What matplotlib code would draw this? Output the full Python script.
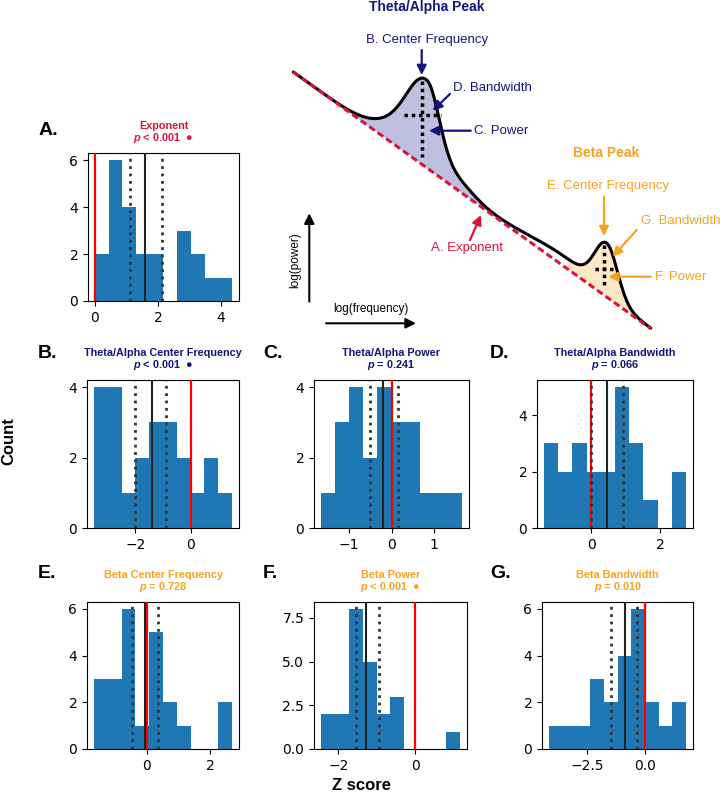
import numpy as np
import matplotlib
matplotlib.use("Agg")
import matplotlib.pyplot as plt

plt.rcParams['font.family'] = ['DejaVu Sans']
plt.rcParams['mathtext.fontset'] = 'custom'
plt.rcParams['mathtext.it'] = 'Liberation Sans:italic:bold'
plt.rcParams['mathtext.rm'] = 'Liberation Sans:bold'
plt.rcParams['mathtext.bf'] = 'Liberation Sans:bold'

LAB = ['Liberation Sans', 'DejaVu Sans']
NAVY = '#14147d'
ORANGE = '#f5a31f'
CRIMSON = '#dc143c'
BAR = '#1f77b4'

# ---------------- histogram data ----------------
panel_letters = ['A.', 'B.', 'C.', 'D.', 'E.', 'F.', 'G.']
panel_names = ['Exponent', 'Theta/Alpha Center Frequency', 'Theta/Alpha Power',
               'Theta/Alpha Bandwidth', 'Beta Center Frequency', 'Beta Power',
               'Beta Bandwidth']
panel_pvals = ['< 0.001', '< 0.001', '= 0.241', '= 0.066', '= 0.728', '< 0.001', '= 0.010']
panel_sig = [True, True, False, False, False, True, False]

bin_ranges = [(0.0, 4.35), (-3.49, 1.49), (-1.66, 1.66), (-1.36, 2.75),
              (-1.66, 2.69), (-2.456, 1.167), (-4.17, 1.77)]
exp_counts = [2, 6, 4, 2, 2, 0, 3, 2, 1, 1]
ta_cf_counts = [4, 4, 1, 2, 3, 3, 2, 1, 2, 1]
ta_pw_counts = [1, 3, 4, 2, 4, 3, 3, 1, 1, 1]
ta_bw_counts = [3, 2, 3, 2, 2, 5, 3, 1, 0, 2]
b_cf_counts = [3, 3, 6, 1, 5, 2, 1, 0, 0, 2]
b_pw_counts = [2, 2, 8, 5, 2, 3, 0, 0, 0, 1]
b_bw_counts = [1, 1, 1, 3, 2, 4, 6, 2, 1, 2]
all_counts = [exp_counts, ta_cf_counts, ta_pw_counts, ta_bw_counts,
              b_cf_counts, b_pw_counts, b_bw_counts]

means = [1.59, -1.40, -0.19, 0.46, -0.04, -1.27, -0.88]
ci_low = [1.11, -2.00, -0.51, -0.005, -0.47, -1.54, -1.48]
ci_high = [2.12, -0.89, 0.145, 0.92, 0.37, -0.94, -0.36]
null_value = 0.0

xticks = [[0, 2, 4], [-2, 0], [-1, 0, 1], [0, 2], [0, 2], [-2, 0], [-2.5, 0.0]]
yticks = [[0, 2, 4, 6], [0, 2, 4], [0, 2, 4], [0, 2, 4], [0, 2, 4, 6],
          [0, 2.5, 5.0, 7.5], [0, 2, 4, 6]]

W, H = 721, 802
# axes boxes in pixels: left, top, right, bottom
boxes = [(88, 153, 239, 301), (87, 380, 239, 528), (314, 380, 469, 528),
         (537, 380, 693, 528), (87, 602, 239, 749), (314, 602, 467, 749),
         (542, 602, 693, 749)]
label_pos = [(39, 135), (38, 358), (263, 358), (490, 358), (38, 578), (263, 578), (490, 578)]
panel_colors = [CRIMSON, NAVY, NAVY, NAVY, ORANGE, ORANGE, ORANGE]

fig = plt.figure(figsize=(W / 100, H / 100), dpi=100)

for i in range(7):
    l, t, r, b = boxes[i]
    ax = fig.add_axes([l / W, 1 - b / H, (r - l) / W, (b - t) / H])
    lo, hi = bin_ranges[i]
    cnt = np.array(all_counts[i], dtype=float)
    edges = np.linspace(lo, hi, len(cnt) + 1)
    ax.hist(edges[:-1], bins=edges, weights=cnt, color=BAR)
    ax.axvline(null_value, color='red', lw=1.6, zorder=3)
    ax.axvline(ci_low[i], color='#333333', lw=2.0, ls=':', zorder=4)
    ax.axvline(ci_high[i], color='#333333', lw=2.0, ls=':', zorder=4)
    ax.axvline(means[i], color='#222222', lw=1.5, zorder=4)
    ax.set_xticks(xticks[i])
    ax.set_yticks(yticks[i])
    ax.tick_params(labelsize=10)
    title = f"{panel_names[i]}\n$p$ {panel_pvals[i]}" + ("  ●" if panel_sig[i] else "")
    ax.set_title(title, color=panel_colors[i], fontsize=7.8, fontweight='bold',
                 family=LAB, linespacing=0.97, pad=8.5)
    lx, ly = label_pos[i]
    fig.text(lx / W, 1 - ly / H, panel_letters[i], fontsize=14, fontweight='bold',
             family=LAB, ha='left', va='baseline')

fig.text(9 / W, 1 - 441 / H, 'Count', rotation=90, fontsize=12, fontweight='bold',
         family=LAB, ha='center', va='center')
fig.text(362 / W, 1 - 785 / H, 'Z score', fontsize=12, fontweight='bold',
         family=LAB, ha='center', va='center')

# ---------------- schematic spectrum ----------------
ap_offset = 0.0
ap_exponent = 1.0
# (center, height, sigma_left, sigma_right) in log-frequency / log-power units
theta_components = [(0.375, 0.272, 0.052, 0.033),
                    (0.3125, 0.0857, 0.070, 0.070),
                    (0.4524, 0.039, 0.0504, 0.0504)]
beta_components = [(0.760, 0.039, 0.098, 0.098),
                   (0.8777, 0.191, 0.0336, 0.0294)]
theta_range = (0.2, 0.6)
beta_range = (0.7, 1.0)
theta_bw = (0.31, 0.413)
theta_bw_level = 0.573
beta_bw = (0.844, 0.897)
beta_bw_level = 0.50


def agauss(f, c, h, sl, sr):
    s = np.where(f < c, sl, sr)
    return h * np.exp(-(f - c) ** 2 / (2 * s ** 2))


sf = np.linspace(0, 1, 1000)
ap = ap_offset - ap_exponent * sf
spec = ap.copy()
for comp in theta_components + beta_components:
    spec = spec + agauss(sf, *comp)

sax = fig.add_axes([280 / W, 1 - 340 / H, 441 / W, 340 / H])
sax.set_xlim(-0.0372, 1.1967)
sax.set_ylim(-1.0444, 0.2806)
sax.axis('off')

th = sf < 0.56
be = sf > 0.765
sax.fill_between(sf, ap, spec, where=th, color='navy', alpha=0.25, lw=0)
sax.fill_between(sf, ap, spec, where=be, color=ORANGE, alpha=0.25, lw=0)
sax.plot(sf, spec, color='black', lw=2.2, zorder=3, solid_capstyle='round')
sax.plot(sf, ap, color=CRIMSON, lw=2.2, ls=(0, (2.2, 1.2)), zorder=4)

# peak markers
for rng, bw, lvl in [(theta_range, theta_bw, theta_bw_level),
                     (beta_range, beta_bw, beta_bw_level)]:
    mask = (sf > rng[0]) & (sf < rng[1])
    idx = np.where(mask)[0][np.argmax(spec[mask])]
    fx, fy = sf[idx], spec[idx]
    base = ap_offset - ap_exponent * fx
    sax.plot([fx, fx], [fy - 0.01, base + 0.03], color='black', lw=2.5,
             ls=(0, (1, 1.1)), zorder=5)
    yl = base + lvl * (fy - base)
    sax.plot(list(bw), [yl, yl], color='black', lw=2.5, ls=(0, (1, 1.1)), zorder=5)


def arrow(start, tip, color, lw=1.6, ms=14):
    sax.annotate('', xy=tip, xytext=start,
                 arrowprops=dict(arrowstyle='-|>', color=color, lw=lw,
                                 mutation_scale=ms, shrinkA=0, shrinkB=0))


tfs = 9.5
sax.text(0.3733, 0.255, 'Theta/Alpha Peak', color=NAVY, fontsize=10, fontweight='bold',
         family=LAB, ha='center', va='center')
sax.text(0.3741, 0.1247, 'B. Center Frequency', color=NAVY, fontsize=tfs, family=LAB,
         ha='center', va='center')
arrow((0.3593, 0.0857), (0.3593, -0.0117), NAVY)
sax.text(0.4477, -0.0635, 'D. Bandwidth', color=NAVY, fontsize=tfs, family=LAB,
         ha='left', va='center')
arrow((0.4384, -0.0857), (0.390, -0.1508), NAVY)
sax.text(0.5056, -0.2288, 'C. Power', color=NAVY, fontsize=tfs, family=LAB,
         ha='left', va='center')
arrow((0.4964, -0.2288), (0.3797, -0.2288), NAVY)

sax.text(0.8758, -0.3145, 'Beta Peak', color=ORANGE, fontsize=10, fontweight='bold',
         family=LAB, ha='center', va='center')
sax.text(0.880, -0.4443, 'E. Center Frequency', color=ORANGE, fontsize=tfs, family=LAB,
         ha='center', va='center')
arrow((0.8693, -0.486), (0.8693, -0.6391), ORANGE)
sax.text(0.972, -0.5807, 'G. Bandwidth', color=ORANGE, fontsize=tfs, family=LAB,
         ha='left', va='center', clip_on=False)
arrow((0.9608, -0.6157), (0.8937, -0.7198), ORANGE)
sax.text(1.012, -0.800, 'F. Power', color=ORANGE, fontsize=tfs, family=LAB,
         ha='left', va='center')
arrow((1.0, -0.7977), (0.8814, -0.7977), ORANGE)

sax.text(0.4852, -0.687, 'A. Exponent', color=CRIMSON, fontsize=tfs, family=LAB,
         ha='center', va='center')
arrow((0.4944, -0.6547), (0.5252, -0.5573), CRIMSON)

sax.text(0.0048, -0.7346, 'log(power)', rotation=90, color='black', fontsize=8.5,
         family=LAB, ha='center', va='center')
arrow((0.0448, -0.895), (0.0448, -0.5507), 'black', lw=1.5, ms=15)
sax.text(0.216, -0.9248, 'log(frequency)', color='black', fontsize=8.5, family=LAB,
         ha='center', va='center')
arrow((0.0915, -0.9793), (0.3433, -0.9793), 'black', lw=1.5, ms=15)

fig.savefig('out.png', dpi=100)
